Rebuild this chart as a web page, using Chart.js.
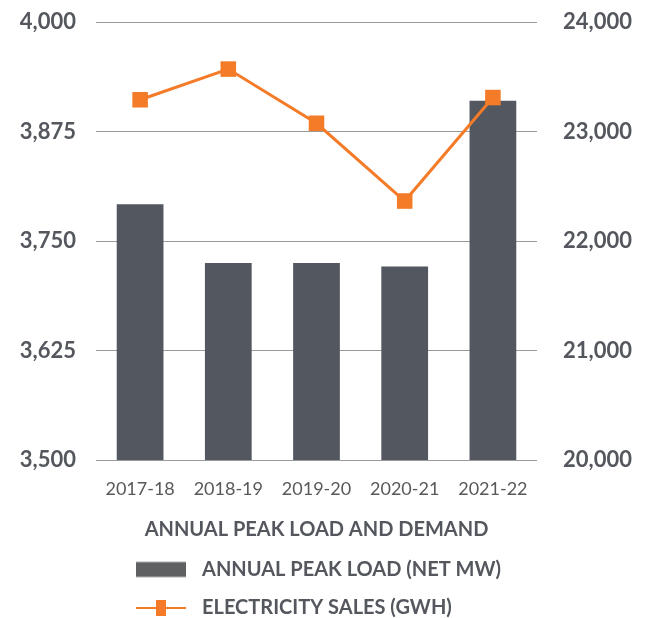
<!DOCTYPE html>
<html>
<head>
<meta charset="utf-8">
<script src="https://cdn.jsdelivr.net/npm/chart.js@4"></script>
<style>
    html, body { margin: 0; padding: 0; background: #fff; }
    #wrap { width: 649px; height: 618px; position: relative; }
</style>
</head>
<body>
<div id="wrap"><canvas id="peakChart"></canvas></div>
<script>
// Data
const years = ['2017-18', '2018-19', '2019-20', '2020-21', '2021-22'];
const peakLoad = [3792, 3725, 3725, 3721, 3910];
const electricitySales = [23290, 23570, 23075, 22365, 23310];
const loadTicks = [3500, 3625, 3750, 3875, 4000];
const salesTicks = [20000, 21000, 22000, 23000, 24000];

const grey = '#53575f';
const orange = '#f47b28';
const textGrey = '#54575d';
const fontFamily = 'Lato, "Open Sans", sans-serif';

// small pictures used as legend symbols
function swatch(draw) {
    const c = document.createElement('canvas');
    c.width = 56;
    c.height = 18;
    draw(c.getContext('2d'));
    return c;
}
const barSwatch = swatch(function(ctx) {
    ctx.fillStyle = '#5f6062';
    ctx.fillRect(0, 1.5, 50, 15);
});
const lineSwatch = swatch(function(ctx) {
    ctx.strokeStyle = orange;
    ctx.lineWidth = 2;
    ctx.beginPath();
    ctx.moveTo(0, 9);
    ctx.lineTo(50, 9);
    ctx.stroke();
    ctx.fillStyle = orange;
    ctx.fillRect(20, 1, 10, 16);
});
const swatches = [barSwatch, lineSwatch];

// legend sits left aligned under the plot, a bit lower than chart.js puts it
const legendShift = {
    id: 'legendShift',
    afterLayout(chart) {
        chart.legend.left = 117.5;
        chart.legend.top += 10;
    }
};

const ctx = document.getElementById('peakChart').getContext('2d');
new Chart(ctx, {
    data: {
        labels: years,
        datasets: [{
            type: 'bar',
            label: 'ANNUAL PEAK LOAD (NET MW)',
            data: peakLoad,
            backgroundColor: grey,
            yAxisID: 'y',
            barPercentage: 0.53,
            categoryPercentage: 1,
            order: 2
        }, {
            type: 'line',
            label: 'ELECTRICITY SALES (GWH)',
            data: electricitySales,
            borderColor: orange,
            backgroundColor: orange,
            borderWidth: 3,
            pointStyle: 'rect',
            pointRadius: 11,
            pointBorderWidth: 0,
            pointBackgroundColor: orange,
            yAxisID: 'y1',
            tension: 0,
            order: 1
        }]
    },
    options: {
        responsive: true,
        maintainAspectRatio: false,
        animation: false,
        layout: {
            padding: { top: 22, left: 0, right: 0, bottom: 0 }
        },
        plugins: {
            tooltip: { enabled: false },
            legend: {
                position: 'bottom',
                align: 'start',
                labels: {
                    usePointStyle: true,
                    pointStyleWidth: 56,
                    boxHeight: 15,
                    padding: 18.5,
                    color: textGrey,
                    font: { family: fontFamily, size: 20, weight: 'bold' },
                    generateLabels: function(chart) {
                        const items = Chart.defaults.plugins.legend.labels.generateLabels(chart);
                        items.sort((a, b) => a.datasetIndex - b.datasetIndex);
                        items.forEach(it => { it.pointStyle = swatches[it.datasetIndex]; });
                        return items;
                    }
                }
            }
        },
        scales: {
            x: {
                grid: { display: false, drawTicks: false },
                border: { display: false },
                ticks: {
                    color: '#595959',
                    padding: 18,
                    font: { family: fontFamily, size: 18 }
                },
                title: {
                    display: true,
                    text: 'ANNUAL PEAK LOAD AND DEMAND',
                    color: textGrey,
                    padding: { top: 14, bottom: -11 },
                    font: { family: fontFamily, size: 20, weight: 'bold' }
                },
                afterFit: function(scale) { scale.height = 71; }
            },
            y: {
                position: 'left',
                min: 3500,
                max: 4000,
                // invisible tick marks keep the labels off the grid
                grid: { color: '#9a9a9a', lineWidth: 1, drawTicks: true, tickLength: 20, tickColor: 'rgba(0,0,0,0)' },
                border: { display: false },
                ticks: {
                    color: textGrey,
                    padding: 0,
                    font: { family: fontFamily, size: 22, weight: 'bold' }
                },
                afterBuildTicks: function(scale) {
                    scale.ticks = loadTicks.map(v => ({ value: v }));
                },
                afterFit: function(scale) { scale.width = 96; }
            },
            y1: {
                position: 'right',
                min: 20000,
                max: 24000,
                grid: { drawOnChartArea: false, drawTicks: true, tickLength: 26, tickColor: 'rgba(0,0,0,0)' },
                border: { display: false },
                ticks: {
                    color: textGrey,
                    padding: 0,
                    font: { family: fontFamily, size: 22, weight: 'bold' }
                },
                afterBuildTicks: function(scale) {
                    scale.ticks = salesTicks.map(v => ({ value: v }));
                },
                afterFit: function(scale) { scale.width = 112; }
            }
        }
    },
    plugins: [legendShift]
});
</script>
</body>
</html>
